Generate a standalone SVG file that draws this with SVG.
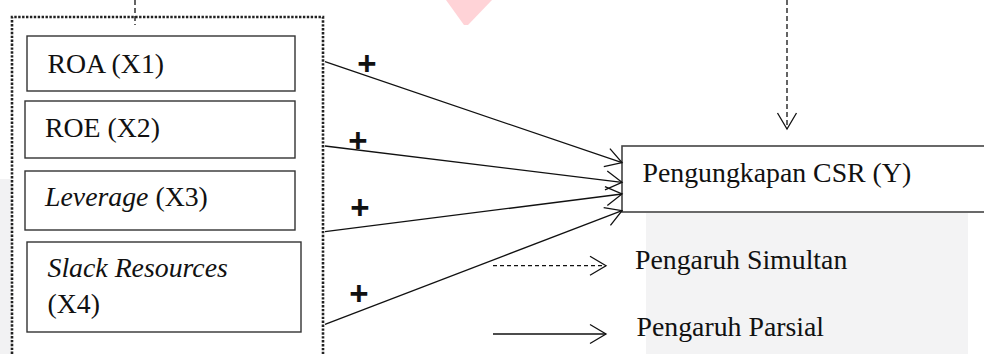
<svg xmlns="http://www.w3.org/2000/svg" width="984" height="354" viewBox="0 0 984 354">
<style>
.box{fill:none;stroke:#333;stroke-width:1.4}
.t{font-family:'Liberation Serif','Times New Roman',serif;font-size:27.8px;fill:#111}
.i{font-style:italic}
.plus{font-family:'Liberation Sans',Arial,sans-serif;font-size:33px;font-weight:bold;fill:#111;text-anchor:middle}
.ln{fill:none;stroke:#111;stroke-width:1.3}
.dash{stroke-dasharray:5 3}
.dots{fill:none;stroke:#222;stroke-width:2.6;stroke-dasharray:2.4 1.5}
</style>
<defs>
<marker id="v" markerUnits="userSpaceOnUse" orient="auto" markerWidth="40" markerHeight="40" refX="0" refY="0" viewBox="-20 -20 40 40" overflow="visible">
<path d="M-16,-9.5 L0,0 L-16,9.5" fill="none" stroke="#111" stroke-width="1.3" stroke-dasharray="none"/>
</marker>
</defs>
<rect width="984" height="354" fill="#fff"/>
<g id="background">
<polygon points="446,0 492,0 468,25 464,25" fill="#ffd3d7"/>
<rect x="0" y="179" width="12" height="175" fill="#f2f2f3"/>
<rect x="646" y="213" width="322" height="141" fill="#f3f3f4"/>
</g>
<g id="group-X">
<path class="dots" d="M12,354 L12,17 L323,17 L323,354"/>
</g>
<g id="node-roa">
<rect class="box" x="27" y="36" width="268" height="55"/>
<text class="t" x="47.5" y="73">ROA (X1)</text>
</g>
<g id="node-roe">
<rect class="box" x="25" y="101" width="270" height="57"/>
<text class="t" x="45" y="137">ROE (X2)</text>
</g>
<g id="node-leverage">
<rect class="box" x="25" y="171" width="270" height="59"/>
<text class="t" x="45" y="206"><tspan class="i">Leverage</tspan> (X3)</text>
</g>
<g id="node-slack">
<rect class="box" x="27" y="242" width="274" height="90"/>
<text class="t i" x="47.5" y="277">Slack Resources</text>
<text class="t" x="47.5" y="313">(X4)</text>
</g>
<g id="node-csr">
<rect class="box" x="622" y="146" width="372" height="66" style="stroke:#444;stroke-width:1.6"/>
<text class="t" x="642.5" y="182">Pengungkapan CSR (Y)</text>
</g>
<g id="connectors">
<line class="ln dash" x1="135" y1="0" x2="135" y2="25"/>
<line class="ln dash" x1="787" y1="0" x2="787" y2="129" marker-end="url(#v)"/>
<line class="ln" x1="325" y1="61.7" x2="622" y2="162.7" marker-end="url(#v)"/>
<line class="ln" x1="325" y1="146" x2="622" y2="182.3" marker-end="url(#v)"/>
<line class="ln" x1="325" y1="231.7" x2="622" y2="194" marker-end="url(#v)"/>
<line class="ln" x1="325" y1="324.3" x2="622" y2="210.7" marker-end="url(#v)"/>
<text class="plus" x="367" y="75">+</text>
<text class="plus" x="358" y="152">+</text>
<text class="plus" x="360" y="219">+</text>
<text class="plus" x="359" y="305">+</text>
</g>
<g id="legend">
<line class="ln" x1="493" y1="265.7" x2="606" y2="265.7" stroke-dasharray="4 3" marker-end="url(#v)"/>
<text class="t" x="635" y="269">Pengaruh Simultan</text>
<line class="ln" x1="493" y1="334" x2="606" y2="334" marker-end="url(#v)"/>
<text class="t" x="636.5" y="335.5">Pengaruh Parsial</text>
</g>
</svg>
